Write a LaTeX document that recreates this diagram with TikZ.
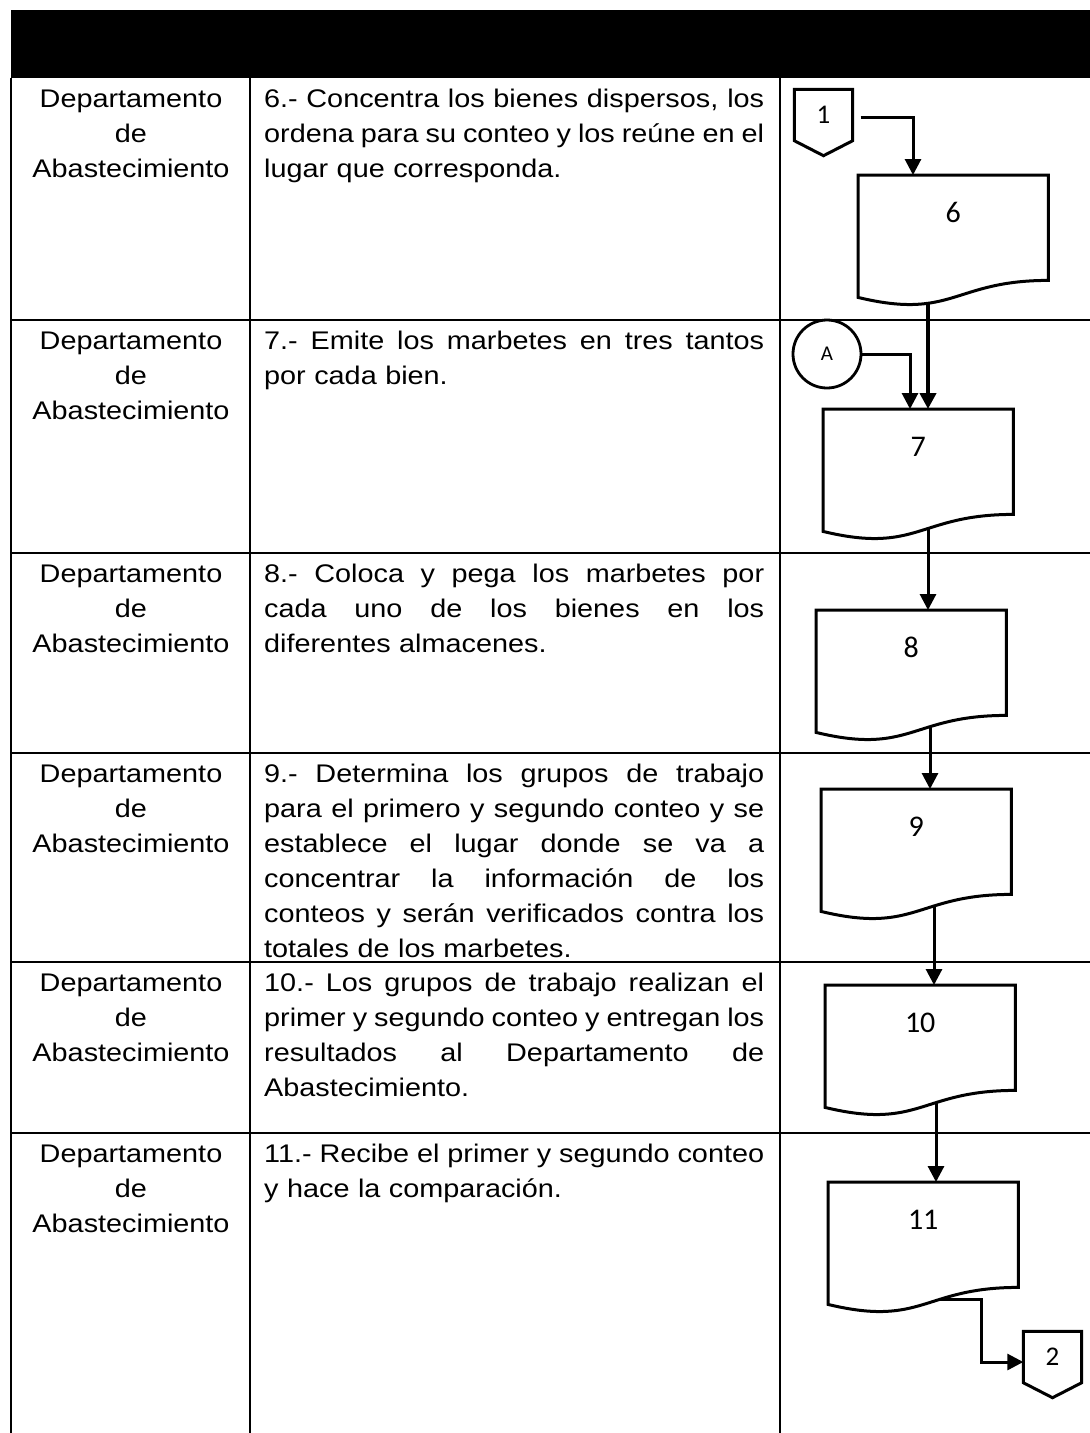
\documentclass[tikz,border=0pt]{standalone}
\usepackage{fontspec}
\setmainfont[FakeStretch=1.13]{Liberation Sans}
\newfontfamily\calfont{Carlito}
\usetikzlibrary{arrows.meta,calc}
\pgfdeclarelayer{bg}
\pgfdeclarelayer{mid}
\pgfsetlayers{bg,mid,main}
\newcommand\jl[1]{\makebox[500pt][s]{\spaceskip=0.278em plus 0.8em minus 0.09em\relax #1}}
\newcommand\fst{\rule{0pt}{20pt}}
\newcommand\docout[1]{\draw[docline] (#1.north west) -- (#1.north east) -- (#1.south east) .. controls (#1.south) and ($(#1.south)+(0,40)$) .. ($(#1.south west)+(0,17)$) -- cycle;}
\newcommand\offout[1]{\draw[docline] (#1.north west) -- (#1.north east) -- (#1.south east) -- ($(#1.south)+(0,15)$) -- (#1.south west) -- cycle;}
\begin{document}
\begin{tikzpicture}[x=1pt,y=-1pt,
  grid/.style={line width=2.2pt},
  dept/.style={anchor=north, text width=238pt, align=center, inner sep=0pt, font=\fontsize{25.5}{35}\selectfont},
  desc/.style={anchor=north west, text width=500pt, align=left, inner sep=0pt, font=\fontsize{25.5}{35}\selectfont},
  docnode/.style={anchor=north west, inner sep=0pt, minimum width=190pt, minimum height=105pt, text height=47pt, text depth=58pt, font=\calfont\fontsize{30}{30}\selectfont},
  docline/.style={draw, fill=white, line width=3pt, line join=miter},
  offpage/.style={inner sep=0pt, minimum width=58pt, minimum height=51pt, font=\calfont\fontsize{27}{27}\selectfont},
  flow/.style={line width=3pt, -{Triangle[length=16pt,width=16pt]}}]
\useasboundingbox (0,0) rectangle (1090,1433);
\begin{pgfonlayer}{bg}
\fill[white] (0,0) rectangle (1090,1433);
\end{pgfonlayer}
% header
\node[fill=black, anchor=north west, minimum width=1079pt, minimum height=68pt, inner sep=0pt] (hdr) at (11,10) {};
% grid
\draw[grid] (11,78) -- (11,1433);
\draw[grid] (250,78) -- (250,1433);
\draw[grid] (780,78) -- (780,1433);
\foreach \yy in {320,553,753,962,1133} {\draw[grid] (11,\yy) -- (1090,\yy);}
% column texts
\node[dept] (p1) at (131,87) {\fst Departamento\\de\\Abastecimiento};
\node[dept] (p2) at (131,329) {\fst Departamento\\de\\Abastecimiento};
\node[dept] (p3) at (131,562) {\fst Departamento\\de\\Abastecimiento};
\node[dept] (p4) at (131,762) {\fst Departamento\\de\\Abastecimiento};
\node[dept] (p5) at (131,971) {\fst Departamento\\de\\Abastecimiento};
\node[dept] (p6) at (131,1142) {\fst Departamento\\de\\Abastecimiento};
\node[desc] (t1) at (264,87) {\fst\jl{6.- Concentra los bienes dispersos, los}\\\jl{ordena para su conteo y los reúne en el}\\lugar que corresponda.};
\node[desc] (t2) at (264,329) {\fst\jl{7.- Emite los marbetes en tres tantos}\\por cada bien.};
\node[desc] (t3) at (264,562) {\fst\jl{8.- Coloca y pega los marbetes por}\\\jl{cada uno de los bienes en los}\\diferentes almacenes.};
\node[desc] (t4) at (264,762) {\fst\jl{9.- Determina los grupos de trabajo}\\\jl{para el primero y segundo conteo y se}\\\jl{establece el lugar donde se va a}\\\jl{concentrar la información de los}\\\jl{conteos y serán verificados contra los}\\totales de los marbetes.};
\node[desc] (t5) at (264,971) {\fst\jl{10.- Los grupos de trabajo realizan el}\\\jl{primer y segundo conteo y entregan los}\\\jl{resultados al Departamento de}\\Abastecimiento.};
\node[desc] (t6) at (264,1142) {\fst\jl{11.- Recibe el primer y segundo conteo}\\y hace la comparación.};
% flow shapes
\node[docnode] (d6) at (858,175) {6};
\node[docnode] (d7) at (823,409) {7};
\node[docnode] (d8) at (816,610) {8};
\node[docnode] (d9) at (821,789) {9};
\node[docnode] (d10) at (825,985) {10};
\node[docnode] (d11) at (828,1182) {11};
\node[offpage] (c1) at (823.5,115) {1};
\node[offpage] (c2) at (1052.5,1357) {2};
\node[circle, draw, line width=2.8pt, minimum size=68pt, inner sep=0pt, font=\calfont\fontsize{21}{21}\selectfont] (A) at (827,354) {A};
\begin{pgfonlayer}{mid}
\docout{d6}\docout{d7}\docout{d8}\docout{d9}\docout{d10}\docout{d11}
\offout{c1}\offout{c2}
\end{pgfonlayer}
\begin{pgfonlayer}{bg}
\draw[flow] ($(c1.east)+(8,2)$) -| ($(d6.north west)+(55,0)$);
\draw[flow] (A.east) -| ($(d7.north west)+(87,0)$);
\coordinate (s6) at ($(d6.south west)+(70,0)$);
\coordinate (s7) at ($(d7.south west)+(105,0)$);
\coordinate (s8) at ($(d8.south west)+(114,0)$);
\coordinate (s9) at ($(d9.south west)+(113,0)$);
\coordinate (s10) at ($(d10.south west)+(111,0)$);
\coordinate (s11) at ($(d11.south west)+(112,12)$);
\draw[flow, line width=4pt] (s6) -- (s6 |- d7.north);
\draw[flow] (s7) -- (s7 |- d8.north);
\draw[flow] (s8) -- (s8 |- d9.north);
\draw[flow] (s9) -- (s9 |- d10.north);
\draw[flow] (s10) -- (s10 |- d11.north);
\draw[flow] (s11) -- ++(41,0) |- ($(c2.west)+(0,5)$);
\end{pgfonlayer}
\end{tikzpicture}
\end{document}
